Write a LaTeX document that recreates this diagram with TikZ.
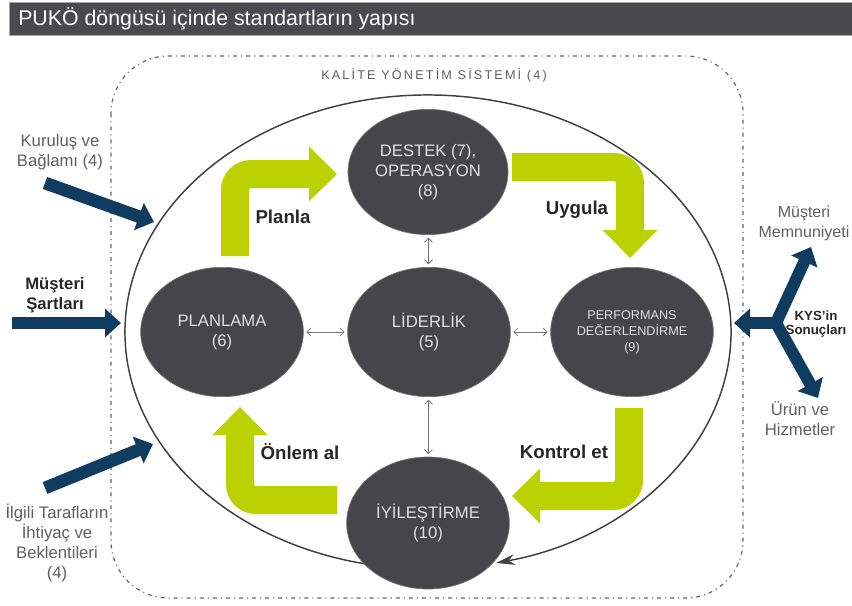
\documentclass[tikz,border=0pt]{standalone}
\usepackage{fontspec}
\setmainfont{Liberation Sans}
\newfontfamily\spacedfont[LetterSpace=17]{Liberation Sans}
\usetikzlibrary{shapes.geometric,arrows.meta}
\definecolor{kgreen}{RGB}{188,210,0}
\definecolor{knavy}{RGB}{16,60,96}
\definecolor{knode}{RGB}{70,70,74}
\definecolor{kbar}{RGB}{74,74,78}
\definecolor{ktext}{RGB}{95,95,95}
\begin{document}
\begin{tikzpicture}[x=0.75pt,y=0.75pt,yscale=-1,xscale=1,
  stage/.style={ellipse, fill=knode, draw=black!55, line width=0.5pt, minimum width=122pt, minimum height=97pt, inner sep=0pt, text=white!88!black, align=center, font=\fontsize{12.5}{15}\selectfont},
  cycleword/.style={font=\bfseries\fontsize{14}{16}\selectfont, text=black!85},
  sidetext/.style={align=center, text=ktext, font=\fontsize{12.5}{15}\selectfont},
  link/.style={draw=black!55, line width=0.6pt, {Straight Barb[length=3pt,width=6pt]}-{Straight Barb[length=3pt,width=6pt]}, shorten <=2pt, shorten >=2pt},
  pdca/.style={draw=kgreen, line width=21pt, rounded corners=12pt, -{Triangle[length=21pt,width=40pt]}},
  inflow/.style={draw=knavy, line width=9.5pt, -{Triangle[length=12pt,width=21pt]}},
  kysring/.style={draw=black!75, line width=1.1pt, -{Stealth[length=14pt,width=8pt]}},
  kysframe/.style={draw=black!60, line width=0.9pt, rounded corners=43pt, dash pattern={on 3pt off 3pt on 0.8pt off 3pt}}
]
\useasboundingbox (0,0) rectangle (852,606);

%Title bar
\draw [draw=black!35, fill=kbar] (9,2) rectangle (852,35);
\node [anchor=west, inner sep=0pt, text=white, font=\fontsize{16}{18}\selectfont] (title) at (18,19) {PUKÖ döngüsü içinde standartların yapısı};

%Dash-dot frame
\draw [kysframe] (111,56) rectangle (743,598);
% Text Node
\node [text=ktext, font={\spacedfont\fontsize{9.5}{11}\selectfont}] (kysLbl) at (434,75) {KALİTE YÖNETİM SİSTEMİ (4)};

%Ring
\draw [kysring] (428,332) ++(101:303 and 237) arc [start angle=101, end angle=437, x radius=303, y radius=237];

%PDCA arrows
\coordinate (planlaStart) at (235,256);
\coordinate (planlaEnd) at (337,174);
\coordinate (uygulaStart) at (512,167);
\coordinate (uygulaEnd) at (630,258);
\coordinate (kontrolStart) at (629,408);
\coordinate (kontrolEnd) at (512,496);
\coordinate (onlemStart) at (337,500);
\coordinate (onlemEnd) at (240,407);
\draw [pdca] (planlaStart) |- (planlaEnd);
\draw [pdca] (uygulaStart) -| (uygulaEnd);
\draw [pdca] (kontrolStart) |- (kontrolEnd);
\draw [pdca] (onlemStart) -| (onlemEnd);

%Stages
\node [stage, minimum width=120pt, minimum height=94pt] (destek) at (428,172) {DESTEK (7),\\OPERASYON\\(8)};
\node [stage] (plan) at (222,332) {PLANLAMA\\(6)};
\node [stage] (lider) at (429,332) {LİDERLİK\\(5)};
\node [stage, font=\fontsize{9.5}{12}\selectfont] (perf) at (632,332) {PERFORMANS\\DEĞERLENDİRME\\(9)};
\node [stage, minimum height=99pt] (iyi) at (428,523) {İYİLEŞTİRME\\(10)};

\draw [link] (plan) -- (lider);
\draw [link] (lider) -- (perf);
\draw [link] (destek) -- (lider);
\draw [link] (lider) -- (iyi);

% Text Node
\node [cycleword] (planlaLbl) at (283,217) {Planla};
\node [cycleword] (uygulaLbl) at (577,210) {Uygula};
\node [cycleword] (kontrolLbl) at (564,452) {Kontrol et};
\node [cycleword] (onlemLbl) at (300,452) {Önlem al};

%Inputs
\coordinate (kurulusTail) at (45,183);
\coordinate (kurulusTip) at (154,222);
\coordinate (sartTail) at (12,323);
\coordinate (sartTip) at (121,323);
\coordinate (ilgiliTail) at (45,488);
\coordinate (ilgiliTip) at (153,444);
\draw [inflow] (kurulusTail) -- (kurulusTip);
\draw [inflow] (sartTail) -- (sartTip);
\draw [inflow] (ilgiliTail) -- (ilgiliTip);

\node [sidetext] (kurulus) at (60,152) {Kuruluş ve\\Bağlamı (4)};
\node [sidetext, text=black!85, font=\bfseries\fontsize{12.5}{15}\selectfont] (sartlar) at (55,295) {Müşteri\\Şartları};
\node [sidetext] (ilgili) at (57,543) {İlgili Tarafların\\İhtiyaç ve\\Beklentileri\\(4)};

%Outputs
\coordinate (kysJ) at (776,323);
\coordinate (kysIn) at (734,323);
\coordinate (kysUp) at (811,247);
\coordinate (kysDown) at (818,398);
\draw [inflow, line width=9pt] (kysJ) -- (kysDown);
\draw [inflow, line width=9pt] (kysJ) -- (kysUp);
\draw [inflow, line width=9pt] (kysJ) -- (kysIn);

\node [sidetext, font=\fontsize{12}{15}\selectfont] (memnun) at (804,223) {Müşteri\\Memnuniyeti};
\node [align=center, text=black!85, font=\bfseries\fontsize{10}{10.5}\selectfont] (kys) at (816,324) {KYS'in\\Sonuçları};
\node [sidetext] (urun) at (800,419) {Ürün ve\\Hizmetler};

\end{tikzpicture}
\end{document}
